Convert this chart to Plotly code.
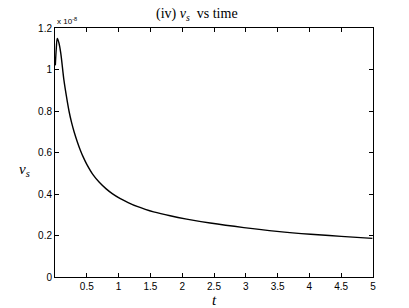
import plotly.graph_objects as go

t_vals = [0.005, 0.02, 0.036, 0.06, 0.09, 0.14, 0.18, 0.22, 0.26, 0.3, 0.35, 0.4, 0.45,
          0.5, 0.6, 0.7, 0.8, 0.9, 1.02, 1.15, 1.29, 1.42, 1.55, 1.81, 2.07, 2.44, 2.97,
          3.49, 4.02, 4.5, 4.99]
vs_vals = [1.02, 1.10, 1.15, 1.13, 1.08, 0.95, 0.87, 0.80, 0.745, 0.70, 0.652, 0.61, 0.574,
           0.543, 0.492, 0.455, 0.426, 0.402, 0.379, 0.359, 0.340, 0.326, 0.314, 0.295,
           0.279, 0.260, 0.238, 0.220, 0.206, 0.196, 0.186]

x_ticks = [0.5, 1, 1.5, 2, 2.5, 3, 3.5, 4, 4.5, 5]
x_ticktext = ["0.5", "1", "1.5", "2", "2.5", "3", "3.5", "4", "4.5", "5"]
y_ticks = [0, 0.2, 0.4, 0.6, 0.8, 1.0, 1.2]
y_ticktext = ["0", "0.2", "0.4", "0.6", "0.8", "1", "1.2"]

fig = go.Figure()
fig.add_trace(go.Scatter(x=t_vals, y=vs_vals, mode="lines",
                         line=dict(color="black", width=1.4, shape="spline", smoothing=1.0),
                         showlegend=False, hoverinfo="skip"))

axis_common = dict(showline=True, linecolor="black", linewidth=1, mirror="ticks",
                   ticks="inside", ticklen=4, tickcolor="black", showgrid=False,
                   zeroline=False,
                   tickfont=dict(family="Liberation Sans, Arial", size=10, color="black"))

L, R, T, B = 55, 36, 28, 31
fig.update_layout(
    width=409, height=308,
    margin=dict(l=L, r=R, t=T, b=B),
    paper_bgcolor="white", plot_bgcolor="white",
    xaxis=dict(range=[0, 5], tickvals=x_ticks, ticktext=x_ticktext, **axis_common),
    yaxis=dict(range=[0, 1.2], tickvals=y_ticks, ticktext=y_ticktext, **axis_common),
    annotations=[
        dict(text="(iv) <i>v<sub>s</sub></i>  vs time",
             x=(197 - L) / (409 - L - R), y=1, xref="paper", yref="paper",
             yanchor="bottom", yshift=3, showarrow=False,
             font=dict(family="Liberation Serif, serif", size=14, color="black")),
        dict(text="x 10<sup>-8</sup>", x=0, y=1, xref="paper", yref="paper", xanchor="left",
             yanchor="bottom", showarrow=False,
             font=dict(family="Liberation Sans, Arial", size=8, color="black")),
        dict(text="<i>v<sub>s</sub></i>", x=-0.095, y=0.43, xref="paper", yref="paper",
             showarrow=False, xanchor="center",
             font=dict(family="Liberation Serif, serif", size=15, color="black")),
        dict(text="<i>t</i>", x=0.5, y=0, xref="paper", yref="paper", showarrow=False,
             yanchor="top", yshift=-13,
             font=dict(family="Liberation Serif, serif", size=15, color="black")),
    ],
)

fig.write_html("out.html", config={"displayModeBar": False},
               post_script="document.body.style.margin='0';")
